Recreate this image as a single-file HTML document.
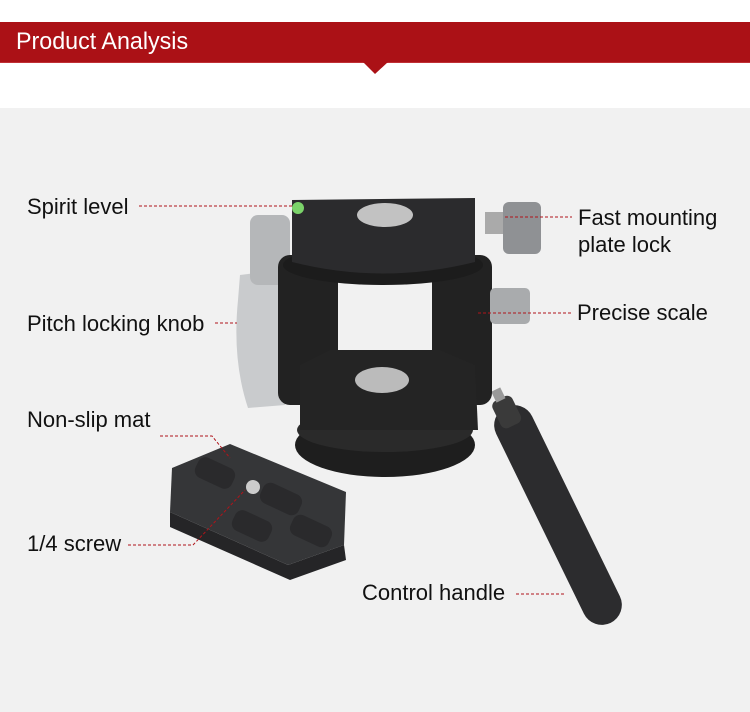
<!DOCTYPE html>
<html><head><style>
body{margin:0;width:750px;height:712px;overflow:hidden;background:#fff;font-family:"Liberation Sans",sans-serif;position:relative}
.ban{position:absolute;left:0;top:22px;width:750px;height:40px;background:#ab1116;border-bottom:1px solid #c03035}
.ban span{position:absolute;left:16px;top:6px;color:#fff;font-size:24px;transform:scaleX(0.97);transform-origin:0 0;display:block}
.gray{position:absolute;left:0;top:108px;width:750px;height:604px;background:#f1f1f1}
.l{position:absolute;font-size:22px;color:#111;line-height:27px}
svg{position:absolute;left:0;top:0}
</style></head><body>
<div class="gray"></div>
<div class="ban"><span>Product Analysis</span></div>
<svg width="750" height="712">
<polygon points="363,62 388,62 375,74" fill="#ab1116"/>
<g transform="rotate(-26 558 515)">
<rect x="538" y="395" width="40" height="240" rx="20" fill="#2c2c2e"/>
<rect x="546" y="385" width="22" height="30" rx="6" fill="#3a3a3a"/>
<rect x="552" y="375" width="10" height="12" fill="#999"/>
</g>
<ellipse cx="385" cy="445" rx="90" ry="32" fill="#1e1e1e"/>
<ellipse cx="385" cy="430" rx="88" ry="22" fill="#2a2a2a"/>
<path d="M240 275 L280 270 L285 405 L248 408 Q232 360 238 300Z" fill="#c9cbcd"/>
<rect x="250" y="215" width="40" height="70" rx="8" fill="#b5b7b9"/>
<rect x="278" y="255" width="60" height="150" rx="12" fill="#222"/>
<rect x="432" y="255" width="60" height="150" rx="12" fill="#222"/>
<path d="M300 365 L330 350 L440 350 L475 365 L478 430 L300 430Z" fill="#242424"/>
<ellipse cx="382" cy="380" rx="27" ry="13" fill="#bbb"/>
<rect x="490" y="288" width="40" height="36" rx="5" fill="#a9abad"/>
<rect x="485" y="212" width="20" height="22" fill="#aaa"/>
<rect x="503" y="202" width="38" height="52" rx="6" fill="#8f9194"/>
<ellipse cx="383" cy="265" rx="100" ry="20" fill="#1c1c1c"/>
<path d="M292 200 L475 198 L475 262 Q383 285 292 262Z" fill="#2b2b2d"/>
<ellipse cx="385" cy="215" rx="28" ry="12" fill="#c2c2c2"/>
<circle cx="298" cy="208" r="6" fill="#7bd36a"/>
<path d="M170 512 L288 565 L344 545 L346 560 L290 580 L170 527Z" fill="#252527"/>
<path d="M172 468 L230 444 L346 492 L344 545 L288 565 L170 512Z" fill="#353638"/>
<g fill="#2a2a2c">
<rect x="195" y="462" width="40" height="22" rx="8" transform="rotate(25 215 473)"/>
<rect x="260" y="488" width="42" height="22" rx="8" transform="rotate(25 281 499)"/>
<rect x="232" y="515" width="40" height="22" rx="8" transform="rotate(25 252 526)"/>
<rect x="290" y="520" width="42" height="22" rx="8" transform="rotate(25 311 531)"/>
</g>
<circle cx="253" cy="487" r="7" fill="#ccc"/>
<g stroke="#b0141a" stroke-width="1" stroke-dasharray="3,2" fill="none">
<line x1="139" y1="206" x2="292" y2="206"/>
<line x1="505" y1="217" x2="572" y2="217"/>
<line x1="215" y1="323" x2="237" y2="323"/>
<line x1="478" y1="313" x2="571" y2="313"/>
<polyline points="160,436 212,436 230,458"/>
<polyline points="128,545 193,545 245,490"/>
<line x1="516" y1="594" x2="565" y2="594"/>
</g>
</svg>
<div class="l" style="left:27px;top:193px">Spirit level</div>
<div class="l" style="left:578px;top:204px">Fast mounting<br>plate lock</div>
<div class="l" style="left:27px;top:310px">Pitch locking knob</div>
<div class="l" style="left:577px;top:299px">Precise scale</div>
<div class="l" style="left:27px;top:406px">Non-slip mat</div>
<div class="l" style="left:27px;top:530px">1/4 screw</div>
<div class="l" style="left:362px;top:579px">Control handle</div>
</body></html>
